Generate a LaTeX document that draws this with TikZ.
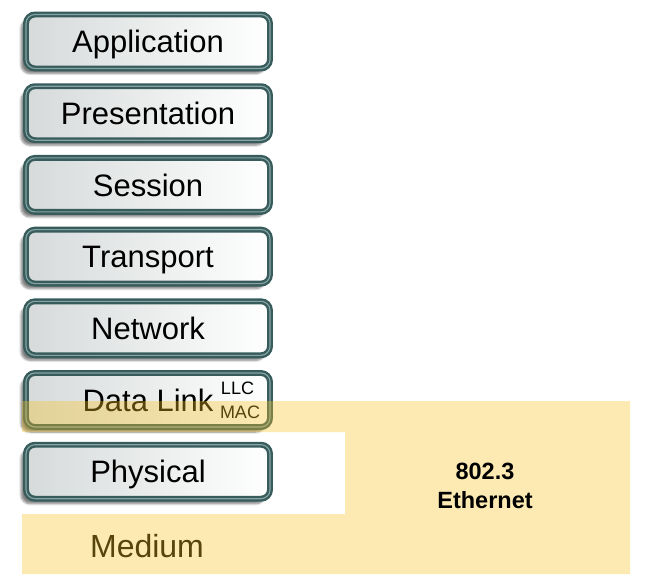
\documentclass[tikz,border=0pt]{standalone}
\usepackage{fontspec}
\setmainfont{Liberation Sans}
\usetikzlibrary{shadows.blur}
\definecolor{bordc}{RGB}{56,92,92}
\definecolor{bordl}{RGB}{135,165,165}
\definecolor{boxgray}{RGB}{214,218,218}
\definecolor{yel}{RGB}{246,195,35}
\tikzset{
  layerbox/.style={rectangle, rounded corners=9pt, minimum width=244pt, minimum height=54pt,
    inner sep=0pt, draw=bordc, line width=2.4pt, double=bordl, double distance=1.1pt,
    left color=boxgray, right color=white,
    blur shadow={shadow xshift=-5pt, shadow yshift=-5pt, shadow blur steps=6, shadow opacity=50},
    font=\fontsize{31}{36}\selectfont, text height=22.2pt, text depth=0pt},
  sublabel/.style={inner sep=0pt, font=\fontsize{18}{20}\selectfont, text height=12.9pt, text depth=0pt},
}
\begin{document}
\begin{tikzpicture}[x=1pt,y=-1pt]
\useasboundingbox (0,0) rectangle (645,584);
\node[layerbox] (app)  at (148,41.5)  {Application};
\node[layerbox] (pres) at (148,113.2) {Presentation};
\node[layerbox] (sess) at (148,184.9) {Session};
\node[layerbox] (trans) at (148,256.6) {Transport};
\node[layerbox] (net)  at (148,328.3) {Network};
\node[layerbox] (dl)   at (148,400)   {Data Link};
\node[sublabel] (llc) at (237.5,388) {LLC};
\node[sublabel] (mac) at (240,412) {MAC};
\node[inner sep=0pt, font=\fontsize{32}{36}\selectfont, text height=23pt, text depth=0pt] (med) at (147,546) {Medium};
\fill[yel, opacity=0.35] (22,401) -- (630,401) -- (630,574) -- (22,574) -- (22,514) -- (345,514) -- (345,432) -- (22,432) -- cycle;
\node[layerbox] (phys) at (148,471.7) {Physical};
\node[inner sep=0pt, align=center, font=\bfseries\fontsize{23.5}{28.5}\selectfont] (eth) at (485,486) {802.3\\Ethernet};
\end{tikzpicture}
\end{document}
